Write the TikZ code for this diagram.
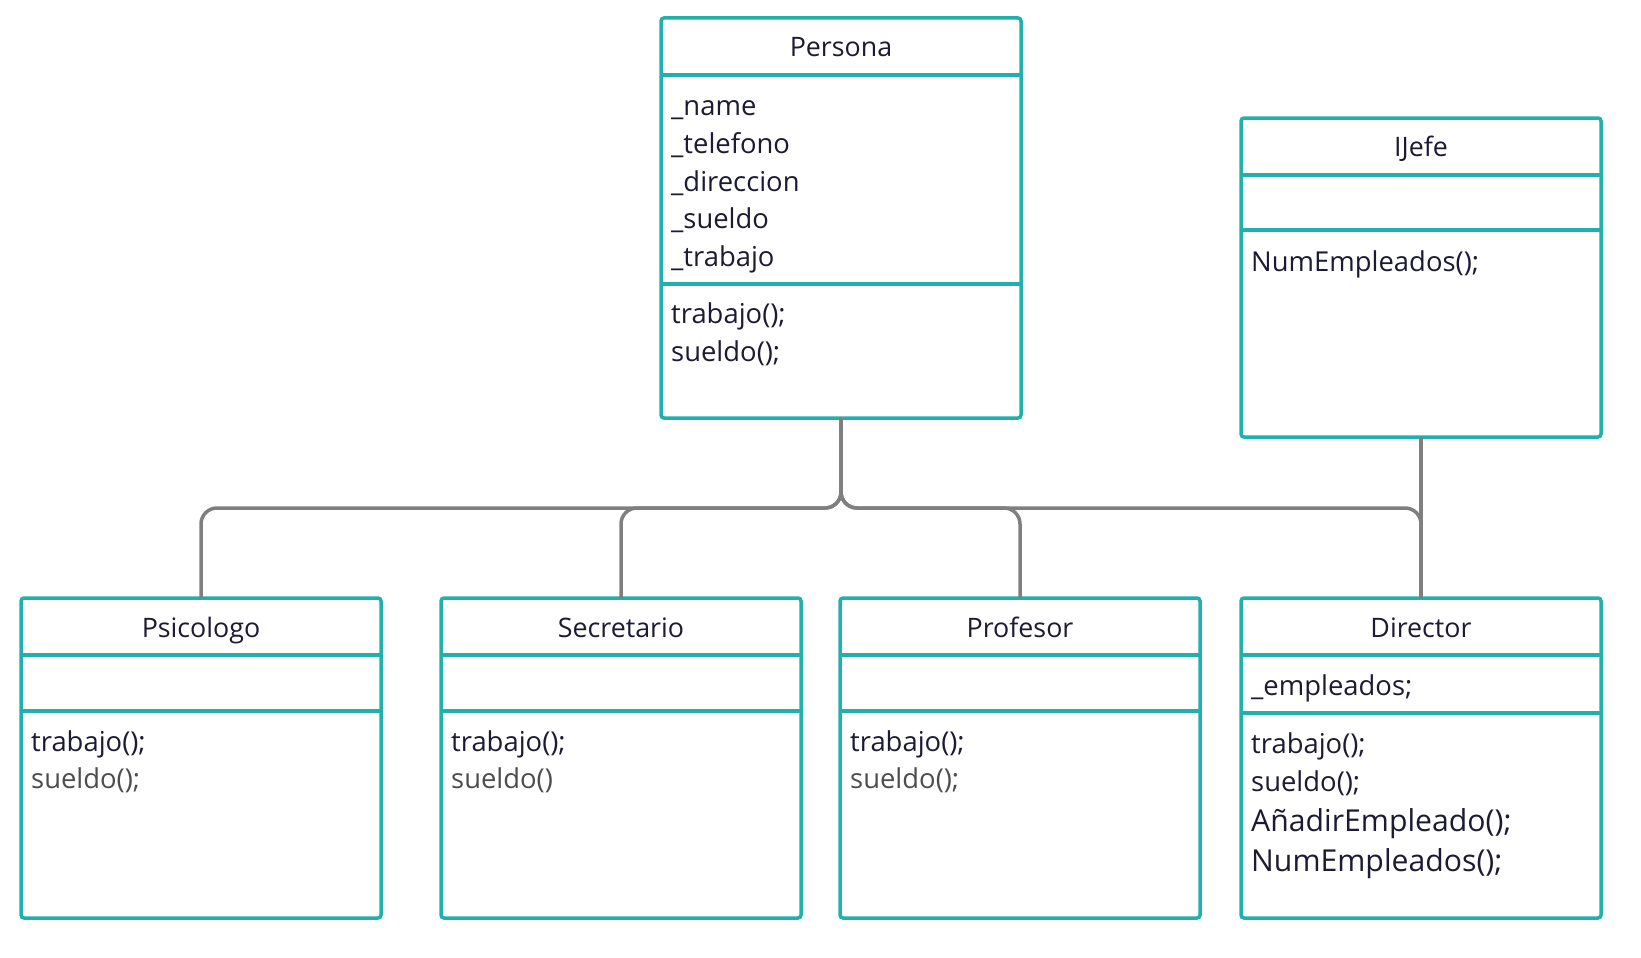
\documentclass[tikz,border=0pt]{standalone}
\usepackage{fontspec}
\setmainfont{Open Sans}
\definecolor{umlteal}{HTML}{22B0AC}
\definecolor{linkgray}{HTML}{7F7F7F}
\definecolor{inkdark}{HTML}{1C1B33}
\definecolor{inkgray}{HTML}{4D4D4D}
\tikzset{
    classbox/.style={draw=umlteal, line width=3.5pt, fill=white, rounded corners=3pt,
        minimum width=360, anchor=north west, inner sep=0pt, outer sep=0pt},
    divider/.style={draw=umlteal, line width=3.5pt},
    classtitle/.style={font=\fontsize{26.8}{30}\selectfont, text=inkdark, anchor=center,
        text height=21pt, text depth=1pt, inner sep=0pt},
    member/.style={font=\fontsize{27.4}{32}\selectfont, text=inkdark, anchor=west,
        text height=21pt, text depth=1pt, inner sep=0pt},
    softmember/.style={member, text=inkgray},
    bigmember/.style={member, font=\fontsize{30.2}{36}\selectfont},
    link/.style={draw=linkgray, line width=3.5pt, rounded corners=16pt}
}
\begin{document}
\begin{tikzpicture}[x=1pt, y=-1pt]
    \useasboundingbox (0,0) rectangle (1641,958);

    % Persona
    \node[classbox, minimum height=400] (persona) at (661,18) {};
    \draw[divider] (persona.west |- 0,75) -- (persona.east |- 0,75);
    \draw[divider] (persona.west |- 0,284) -- (persona.east |- 0,284);
    \node[classtitle] (persona-t) at (841,47) {Persona};
    \foreach \txt [count=\i] in {\_name, \_telefono, \_direccion, \_sueldo, \_trabajo}
        \node[member] (persona-a\i) at (671,{105.7+37.7*(\i-1)}) {\txt};
    \node[member] (persona-m1) at (671,313) {trabajo();};
    \node[member] (persona-m2) at (671,351) {sueldo();};

    % IJefe
    \node[classbox, minimum height=319] (ijefe) at (1241,118) {};
    \draw[divider] (ijefe.west |- 0,175) -- (ijefe.east |- 0,175);
    \draw[divider] (ijefe.west |- 0,230) -- (ijefe.east |- 0,230);
    \node[classtitle] (ijefe-t) at (1421,146.5) {IJefe};
    \node[member] (ijefe-m1) at (1251,261) {NumEmpleados();};

    % Subclasses
    \foreach \name/\title/\x in {psicologo/Psicologo/21, secretario/Secretario/441,
                                 profesor/Profesor/840, director/Director/1241} {
        \node[classbox, minimum height=320] (\name) at (\x,598) {};
        \draw[divider] (\name.west |- 0,655) -- (\name.east |- 0,655);
        \node[classtitle] (\name-t) at ([yshift=-29pt]\name.north) {\title};
    }
    \foreach \name in {psicologo, secretario, profesor}
        \draw[divider] (\name.west |- 0,711) -- (\name.east |- 0,711);
    \draw[divider] (director.west |- 0,713) -- (director.east |- 0,713);

    \node[member] (psicologo-m1) at (31,741) {trabajo();};
    \node[softmember] (psicologo-m2) at (31,778.5) {sueldo();};
    \node[member] (secretario-m1) at (451,741) {trabajo();};
    \node[softmember] (secretario-m2) at (451,778.5) {sueldo()};
    \node[member] (profesor-m1) at (850,741) {trabajo();};
    \node[softmember] (profesor-m2) at (850,778.5) {sueldo();};

    \node[member] (director-a1) at (1251,685.5) {\_empleados;};
    \node[member] (director-m1) at (1251,743) {trabajo();};
    \node[member] (director-m2) at (1251,781) {sueldo();};
    \node[bigmember] (director-m3) at (1251,821.5) {AñadirEmpleado();};
    \node[bigmember] (director-m4) at (1251,861) {NumEmpleados();};

    % Connectors
    \coordinate (bus) at (persona.south |- 0,508);
    \foreach \name in {psicologo, secretario, profesor, director}
        \draw[link] (persona.south) -- (bus) -| (\name.north);
    \draw[link] (ijefe.south) -- (director.north);
\end{tikzpicture}
\end{document}
